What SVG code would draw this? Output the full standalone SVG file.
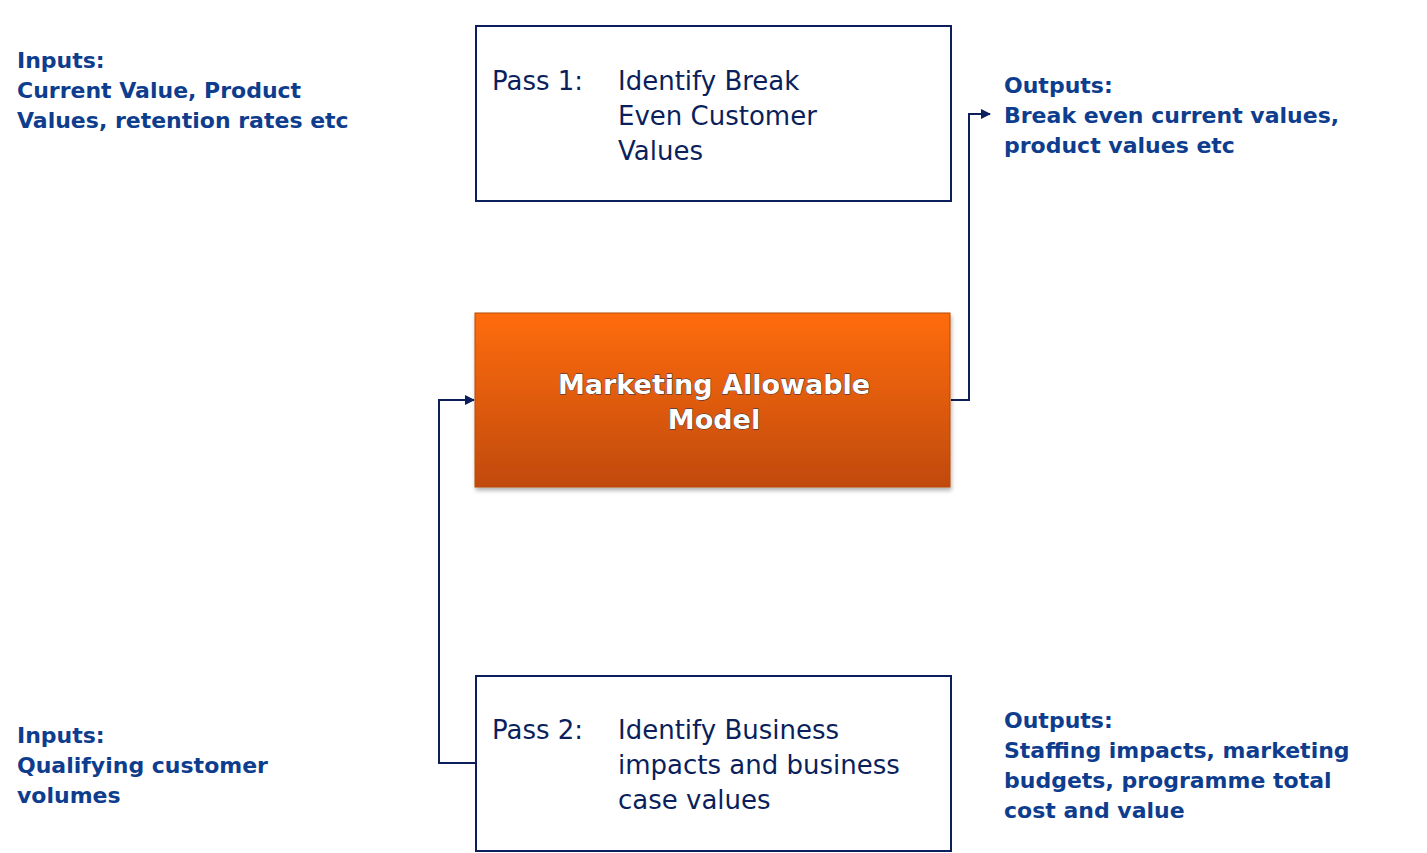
<svg xmlns="http://www.w3.org/2000/svg" width="1427" height="853" viewBox="0 0 1427 853">
<style>
.lbl{font-family:"DejaVu Sans",Verdana,sans-serif;font-weight:bold;font-size:22px;fill:#0E3D8E}
.bx{fill:#fff;stroke:#0B1F5C;stroke-width:2}
.bt{font-family:"DejaVu Sans",Verdana,sans-serif;font-size:26px;fill:#0B1F5C}
.mt{font-family:"DejaVu Sans",Verdana,sans-serif;font-weight:bold;font-size:27px;fill:#fff;stroke:#1a2a4a;stroke-width:0.8;paint-order:stroke}
.cn{fill:none;stroke:#0B1F5C;stroke-width:2}
</style>
<defs>
<linearGradient id="og" x1="0" y1="0" x2="0" y2="1">
<stop offset="0" stop-color="#FF6C0C"/><stop offset="1" stop-color="#C04A0C"/>
</linearGradient>
<marker id="ar" markerWidth="10" markerHeight="10" refX="9" refY="5" orient="auto" markerUnits="userSpaceOnUse">
<path d="M0,0 L10,5 L0,10 z" fill="#0B1F5C"/>
</marker>
<filter id="sh" x="-5%" y="-5%" width="110%" height="115%"><feDropShadow dx="1" dy="3" stdDeviation="2" flood-color="#000" flood-opacity="0.3"/></filter>
</defs>
<g id="connectors">
<path class="cn" d="M951,400 H969 V114 H990" marker-end="url(#ar)"/>
<path class="cn" d="M476,763 H439 V400 H474" marker-end="url(#ar)"/>
</g>
<g id="inputs1"><text class="lbl"><tspan x="17" y="68">Inputs:</tspan><tspan x="17" y="98">Current Value, Product</tspan><tspan x="17" y="128">Values, retention rates etc</tspan></text></g>
<g id="pass1"><rect class="bx" x="476" y="26" width="475" height="175"/>
<text class="bt"><tspan x="492" y="90">Pass 1:</tspan><tspan x="618" y="90">Identify Break</tspan><tspan x="618" y="125">Even Customer</tspan><tspan x="618" y="160">Values</tspan></text></g>
<g id="outputs1"><text class="lbl"><tspan x="1004" y="93">Outputs:</tspan><tspan x="1004" y="123">Break even current values,</tspan><tspan x="1004" y="153">product values etc</tspan></text></g>
<g id="model"><rect x="475" y="313" width="475" height="174" fill="url(#og)" stroke="#B8480C" stroke-width="1" filter="url(#sh)"/>
<text class="mt" text-anchor="middle"><tspan x="714" y="394">Marketing Allowable</tspan><tspan x="714" y="429">Model</tspan></text></g>
<g id="inputs2"><text class="lbl"><tspan x="17" y="743">Inputs:</tspan><tspan x="17" y="773">Qualifying customer</tspan><tspan x="17" y="803">volumes</tspan></text></g>
<g id="pass2"><rect class="bx" x="476" y="676" width="475" height="175"/>
<text class="bt"><tspan x="492" y="739">Pass 2:</tspan><tspan x="618" y="739">Identify Business</tspan><tspan x="618" y="774">impacts and business</tspan><tspan x="618" y="809">case values</tspan></text></g>
<g id="outputs2"><text class="lbl"><tspan x="1004" y="728">Outputs:</tspan><tspan x="1004" y="758">Staffing impacts, marketing</tspan><tspan x="1004" y="788">budgets, programme total</tspan><tspan x="1004" y="818">cost and value</tspan></text></g>
</svg>
